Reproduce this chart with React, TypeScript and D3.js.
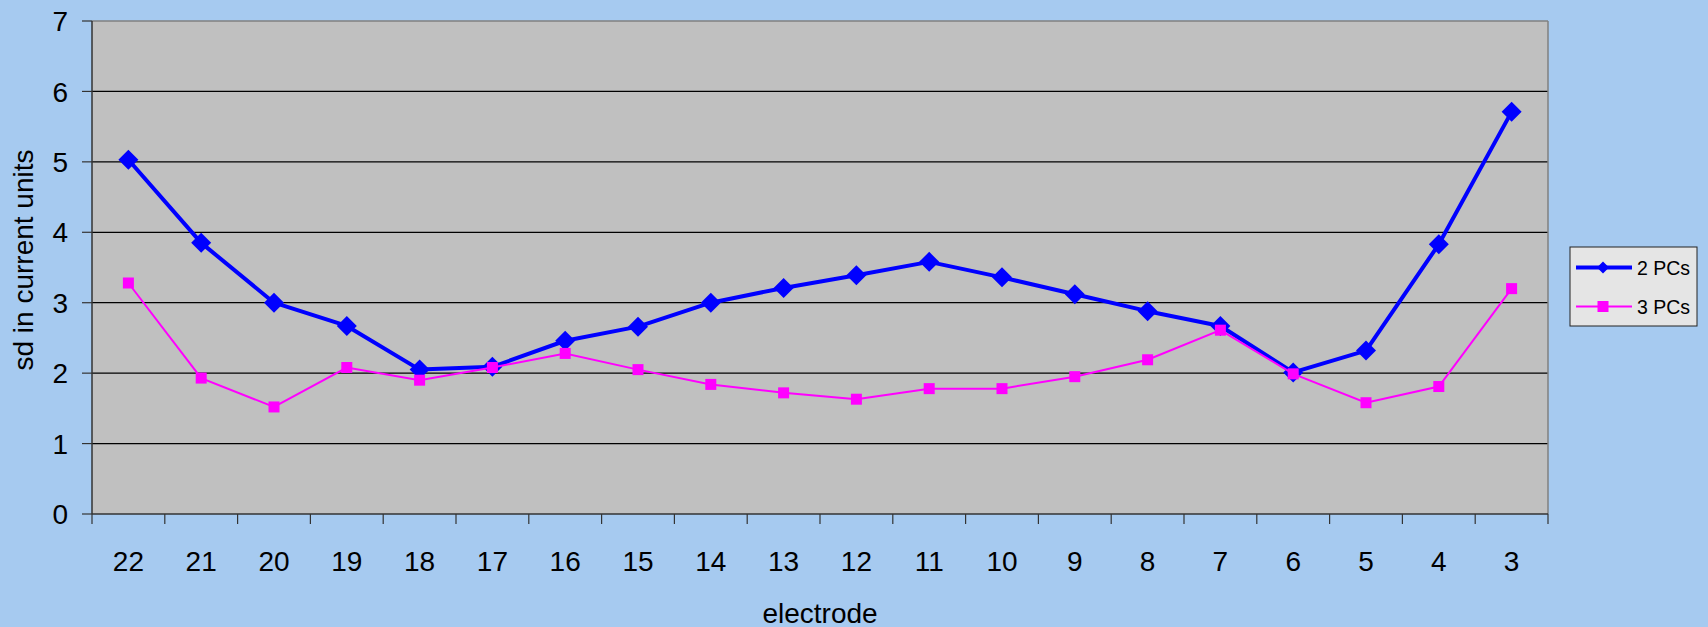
import React from "react";
import * as d3 from "d3";

const categories = ["22","21","20","19","18","17","16","15","14","13","12","11","10","9","8","7","6","5","4","3"];
const pcs2 = [5.03,3.85,3.0,2.67,2.05,2.09,2.46,2.66,3.0,3.21,3.39,3.58,3.36,3.12,2.88,2.67,2.01,2.32,3.83,5.71];
const pcs3 = [3.28,1.93,1.52,2.08,1.9,2.08,2.28,2.05,1.84,1.72,1.63,1.78,1.78,1.95,2.19,2.61,1.99,1.58,1.81,3.2];
const yTicks = [0,1,2,3,4,5,6,7];
const seriesNames = ["2 PCs","3 PCs"];

const W = 1708, H = 627;
const L = 92, R = 1548, T = 21, B = 514;
const FONT = "'Liberation Sans', Arial, sans-serif";

export default function App() {
  const x = d3.scaleBand<string>().domain(categories).range([L, R]);
  const y = d3.scaleLinear().domain([0, 7]).range([B, T]);
  const cx = (c: string) => (x(c) as number) + x.bandwidth() / 2;
  const line = d3.line<number>().x((_, i) => cx(categories[i])).y(v => y(v));
  const diamond = (px: number, py: number, r: number) =>
    `M${px},${py - r}L${px + r},${py}L${px},${py + r}L${px - r},${py}Z`;
  const boundaries = categories.map(c => x(c) as number).concat([R]);

  return (
    <svg width={W} height={H} style={{ position: "fixed", left: 0, top: 0, display: "block" }}>
      <rect x={0} y={0} width={W} height={H} fill="#A6CAF0" />
      <rect x={L} y={T} width={R - L} height={B - T} fill="#C0C0C0" />
      {yTicks.filter(t => t > 0 && t < 7).map(t => (
        <line key={t} x1={L} x2={R} y1={y(t)} y2={y(t)} stroke="#000" strokeWidth={1.2} />
      ))}
      <line x1={L} x2={R} y1={T} y2={T} stroke="#808080" strokeWidth={1.5} />
      <line x1={R} x2={R} y1={T} y2={B} stroke="#808080" strokeWidth={1.5} />
      <line x1={L} x2={L} y1={T} y2={B} stroke="#333" strokeWidth={1.5} />
      <line x1={L} x2={R} y1={B} y2={B} stroke="#333" strokeWidth={1.5} />
      {yTicks.map(t => (
        <g key={t}>
          <line x1={L - 10} x2={L} y1={y(t)} y2={y(t)} stroke="#333" strokeWidth={1.2} />
          <text x={68} y={y(t)} dy="0.36em" textAnchor="end" fontFamily={FONT} fontSize={28} fill="#000">{t}</text>
        </g>
      ))}
      {boundaries.map((b, i) => (
        <line key={i} x1={b} x2={b} y1={B} y2={B + 10} stroke="#333" strokeWidth={1.2} />
      ))}
      {categories.map(c => (
        <text key={c} x={cx(c)} y={570.5} textAnchor="middle" fontFamily={FONT} fontSize={28} fill="#000">{c}</text>
      ))}
      <text x={(L + R) / 2} y={622.5} textAnchor="middle" fontFamily={FONT} fontSize={28} fill="#000">electrode</text>
      <text transform={`translate(33,260) rotate(-90)`} textAnchor="middle" fontFamily={FONT} fontSize={28} fill="#000">sd in current units</text>

      {/* series 2 PCs */}
      <path d={line(pcs2) as string} fill="none" stroke="#0000FF" strokeWidth={4} strokeLinejoin="round" />
      {pcs2.map((v, i) => (
        <path key={i} d={diamond(cx(categories[i]), y(v), 10)} fill="#0000FF" />
      ))}
      {/* series 3 PCs (drawn on top) */}
      <path d={line(pcs3) as string} fill="none" stroke="#FF00FF" strokeWidth={2} />
      {pcs3.map((v, i) => (
        <rect key={i} x={cx(categories[i]) - 5.5} y={y(v) - 5.5} width={11} height={11} fill="#FF00FF" />
      ))}

      {/* legend */}
      <rect x={1570} y={247} width={127} height={79} fill="#E5E5E5" stroke="#222" strokeWidth={1} />
      <line x1={1576} x2={1632} y1={267.5} y2={267.5} stroke="#0000FF" strokeWidth={4} />
      <path d={diamond(1603, 267.5, 6)} fill="#0000FF" />
      <text x={1637} y={267.5} dy="0.36em" fontFamily={FONT} fontSize={19.5} fill="#000">{seriesNames[0]}</text>
      <line x1={1576} x2={1632} y1={306.5} y2={306.5} stroke="#FF00FF" strokeWidth={2} />
      <rect x={1597.5} y={301} width={11} height={11} fill="#FF00FF" />
      <text x={1637} y={306.5} dy="0.36em" fontFamily={FONT} fontSize={19.5} fill="#000">{seriesNames[1]}</text>
    </svg>
  );
}
